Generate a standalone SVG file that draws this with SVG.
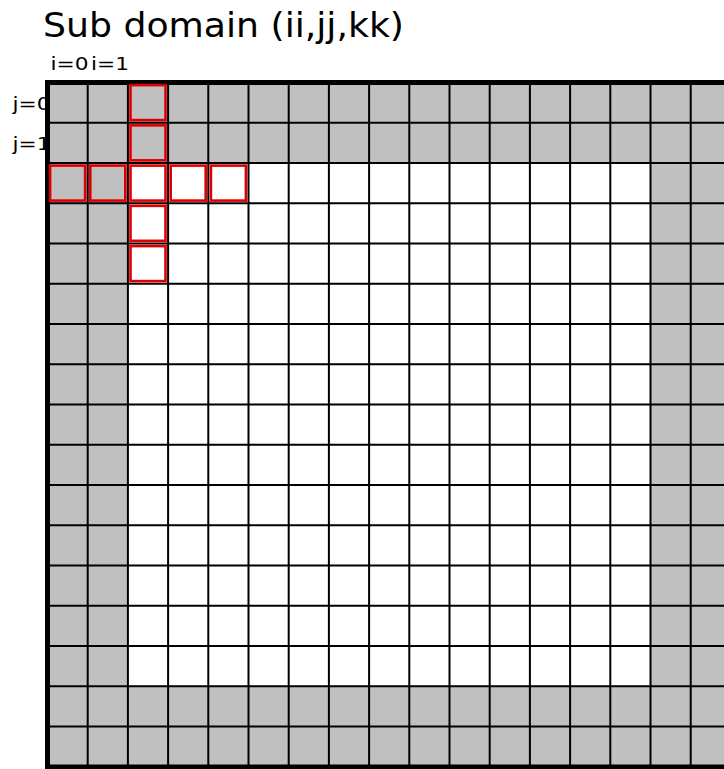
<svg xmlns="http://www.w3.org/2000/svg" width="724" height="769" viewBox="0 0 724 769">
<style>
.t{font-family:"DejaVu Sans",sans-serif;fill:#000}
.l{font-size:18.5px}
.g{stroke:#000;stroke-width:2;fill:none}
.r{stroke:#e00000;stroke-width:2.6;fill:none}
</style>
<rect width="724" height="769" fill="#fff"/>
<text class="t" x="43" y="37" font-size="33" textLength="361" lengthAdjust="spacingAndGlyphs">Sub domain (ii,jj,kk)</text>
<text class="t l" x="50.5" y="70" textLength="38" lengthAdjust="spacingAndGlyphs">i=0</text>
<text class="t l" x="91" y="70" textLength="38" lengthAdjust="spacingAndGlyphs">i=1</text>
<text class="t l" x="12.5" y="110" textLength="38" lengthAdjust="spacingAndGlyphs">j=0</text>
<text class="t l" x="12.5" y="150" textLength="38" lengthAdjust="spacingAndGlyphs">j=1</text>
<g id="grid">
<rect x="47.5" y="82.5" width="700" height="684" fill="#c0c0c0"/>
<rect x="127.9" y="163" width="522.6" height="523.25" fill="#fff"/>
<path class="g" d="M87.7 82.5V766.5M127.9 82.5V766.5M168.1 82.5V766.5M208.3 82.5V766.5M248.5 82.5V766.5M288.7 82.5V766.5M328.9 82.5V766.5M369.1 82.5V766.5M409.3 82.5V766.5M449.5 82.5V766.5M489.7 82.5V766.5M529.9 82.5V766.5M570.1 82.5V766.5M610.3 82.5V766.5M650.5 82.5V766.5M690.7 82.5V766.5"/>
<path class="g" d="M47.5 122.75H724M47.5 163H724M47.5 203.25H724M47.5 243.5H724M47.5 283.75H724M47.5 324H724M47.5 364.25H724M47.5 404.5H724M47.5 444.75H724M47.5 485H724M47.5 525.25H724M47.5 565.5H724M47.5 605.75H724M47.5 646H724M47.5 686.25H724M47.5 726.5H724"/>
<rect x="47.5" y="82.5" width="700" height="684.5" fill="none" stroke="#000" stroke-width="5"/>
</g>
<g id="stencil">
<rect class="r" x="130.5" y="85.1" width="35" height="35"/>
<rect class="r" x="130.5" y="125.35" width="35" height="35"/>
<rect class="r" x="50.1" y="165.6" width="35" height="35"/>
<rect class="r" x="90.3" y="165.6" width="35" height="35"/>
<rect class="r" x="130.5" y="165.6" width="35" height="35"/>
<rect class="r" x="170.7" y="165.6" width="35" height="35"/>
<rect class="r" x="210.9" y="165.6" width="35" height="35"/>
<rect class="r" x="130.5" y="205.85" width="35" height="35"/>
<rect class="r" x="130.5" y="246.1" width="35" height="35"/>
</g>
</svg>
